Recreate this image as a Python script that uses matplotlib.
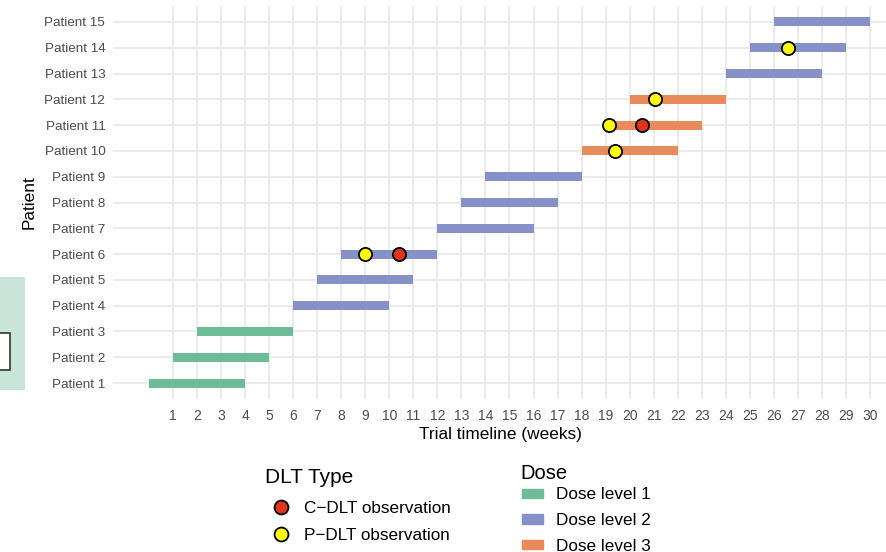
import matplotlib.pyplot as plt
from matplotlib.patches import Rectangle, Patch
from matplotlib.lines import Line2D

plt.rcParams['font.family'] = ['Liberation Sans', 'DejaVu Sans']

# Data
patients = ['Patient %d' % i for i in range(1, 16)]
start = [0, 1, 2, 6, 7, 8, 12, 13, 14, 18, 19, 20, 24, 25, 26]
end = [4, 5, 6, 10, 11, 12, 16, 17, 18, 22, 23, 24, 28, 29, 30]
dose = [1, 1, 1, 2, 2, 2, 2, 2, 2, 3, 3, 3, 2, 2, 2]

cdlt_patient = [6, 11]
cdlt_week = [10.4, 20.5]
pdlt_patient = [6, 10, 11, 12, 14]
pdlt_week = [9.0, 19.4, 19.15, 21.05, 26.6]

dose_labels = ['Dose level 1', 'Dose level 2', 'Dose level 3']
dose_colors = {1: '#6dbb97', 2: '#8691c7', 3: '#e98a5b'}
x_ticks = list(range(1, 31))

# Setup
W, H = 887, 552
fig = plt.figure(figsize=(W / 100, H / 100), dpi=100)
ax = fig.add_axes([113 / W, (H - 398.5) / H, 774 / W, 392 / H])

ypos = list(range(1, 16))
for y, s, e, d in zip(ypos, start, end, dose):
    ax.barh(y, e - s, left=s, height=0.35, color=dose_colors[d], zorder=2)

ax.scatter(cdlt_week, cdlt_patient, s=90, color='#e0341c', edgecolors='black',
           linewidths=1.3, zorder=3)
ax.scatter(pdlt_week, pdlt_patient, s=90, color='#ffff00', edgecolors='black',
           linewidths=1.3, zorder=3)

# Formatting
ax.set_xlim(-1.5, 30.71)
ax.set_ylim(0.4, 15.6)
ax.set_xticks(x_ticks)
ax.set_yticks(ypos)
ax.set_yticklabels(patients)
ax.tick_params(length=0, labelsize=10, labelcolor='#4d4d4d')
ax.tick_params(axis='y', pad=5.5, labelsize=9.7)
ax.tick_params(axis='x', pad=7.3)
ax.grid(True, color='#ebebeb', linewidth=1.4, zorder=0)
ax.set_axisbelow(True)
for sp in ax.spines.values():
    sp.set_visible(False)
ax.set_xlabel('Trial timeline (weeks)', fontsize=12.4, labelpad=3.5)
ax.set_ylabel('Patient', fontsize=12.4, labelpad=5.8)

# Legends
fs = 12.3
fig.text(265 / W, 1 - 483 / H, 'DLT Type', fontsize=15, va='baseline', ha='left')
fig.text(520 / W, 1 - 479 / H, 'Dose', fontsize=14.5, va='baseline', ha='left')

dlt_handles = [
    Line2D([], [], marker='o', linestyle='none', markersize=10, markerfacecolor='#e0341c',
           markeredgecolor='black', markeredgewidth=1.3),
    Line2D([], [], marker='o', linestyle='none', markersize=10, markerfacecolor='#ffff00',
           markeredgecolor='black', markeredgewidth=1.3),
]
leg1 = fig.legend(dlt_handles, ['C\u2212DLT observation', 'P\u2212DLT observation'],
                  loc='upper left', bbox_to_anchor=(270.8 / W, 1 - 501.3 / H),
                  frameon=False, fontsize=fs, borderpad=0, borderaxespad=0,
                  handlelength=1.2, handletextpad=0.74, labelspacing=0.68)

dose_handles = [Patch(color=dose_colors[i + 1]) for i in range(3)]
leg2 = fig.legend(dose_handles, dose_labels, loc='upper left',
                  bbox_to_anchor=(522 / W, 1 - 487.3 / H), frameon=False, fontsize=fs,
                  borderpad=0, borderaxespad=0, handlelength=1.22, handleheight=0.47,
                  handletextpad=0.76, labelspacing=0.625)

# stray panel pieces at the left edge of the original image
fig.patches.append(Rectangle((0, 1 - 390 / H), 25 / W, 113 / H, transform=fig.transFigure,
                             facecolor='#c9e5d9', edgecolor='none'))
fig.patches.append(Rectangle((-5 / W, 1 - 370 / H), 15 / W, 37 / H, transform=fig.transFigure,
                             facecolor='white', edgecolor='#333333', linewidth=1.2))

fig.savefig('out.png', dpi=100)
